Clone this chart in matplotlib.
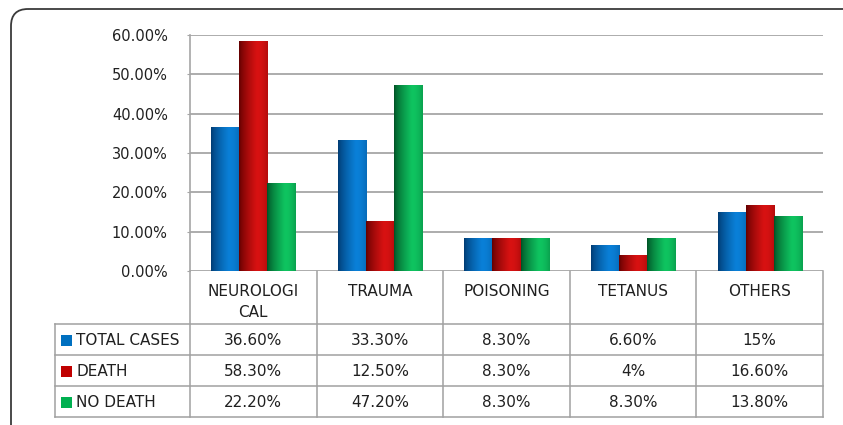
import numpy as np
import matplotlib
matplotlib.use("Agg")
import matplotlib.pyplot as plt
from matplotlib.patches import FancyBboxPatch, Rectangle
from matplotlib.colors import to_rgb

# ---------------- data ----------------
categories = ["NEUROLOGI\nCAL", "TRAUMA", "POISONING", "TETANUS", "OTHERS"]
series_names = ["TOTAL CASES", "DEATH", "NO DEATH"]
total_cases = [36.6, 33.3, 8.3, 6.6, 15.0]
death = [58.3, 12.5, 8.3, 4.0, 16.6]
no_death = [22.2, 47.2, 8.3, 8.3, 13.8]
y_ticks = [0, 10, 20, 30, 40, 50, 60]

series = [total_cases, death, no_death]
bright = ["#0a80d8", "#d81212", "#0fc460"]
dark = ["#003a70", "#600000", "#005025"]
key_colors = ["#0070c0", "#c00000", "#00b050"]

W, H = 843, 425
DPI = 100
plt.rcParams['font.family'] = ['DejaVu Sans']
FS = 10.5
FS_T = 11

fig = plt.figure(figsize=(W / DPI, H / DPI), dpi=DPI)
fig.patch.set_facecolor("white")

# plot area in pixels
L, R, T, B = 190, 823, 35, 271
ax = fig.add_axes([L / W, (H - B) / H, (R - L) / W, (B - T) / H])
ax.set_zorder(2)
ax.patch.set_alpha(0)

n = len(categories)
x = np.arange(n)
bw = 1 / 4.5
offsets = [-bw, 0, bw]


def grad_img(c_dark, c_bright):
    d = np.array(to_rgb(c_dark))
    b = np.array(to_rgb(c_bright))
    t = np.linspace(0, 1, 64)
    # dark on left, brightest ~62%, slightly darker on right edge
    prof = np.where(t < 0.62, (t / 0.62) ** 0.7, 1 - 0.3 * ((t - 0.62) / 0.38) ** 2)
    prof = np.clip(prof, 0, 1)
    cols = d[None, :] + (b - d)[None, :] * prof[:, None]
    return cols[None, :, :]


for s, vals in enumerate(series):
    bars = ax.bar(x + offsets[s], vals, width=bw, color=bright[s], zorder=3, linewidth=0)
    img = grad_img(dark[s], bright[s])
    for p in bars:
        x0 = p.get_x()
        ax.imshow(img, extent=(x0, x0 + p.get_width(), 0, p.get_height()),
                  aspect="auto", zorder=4, interpolation="bilinear")

ax.set_xlim(-0.5, n - 0.5)
ax.set_ylim(0, 60)
ax.set_yticks(y_ticks)
ax.set_yticklabels([f"{v:.2f}%" for v in y_ticks], fontsize=FS, color="#202020")
ax.set_xticks([])
ax.grid(axis="y", color="#a6a6a6", linewidth=1.3, zorder=1)
ax.set_axisbelow(True)
for sp in ["top", "right", "bottom"]:
    ax.spines[sp].set_visible(False)
ax.spines["left"].set_color("#a6a6a6")
ax.spines["left"].set_linewidth(1.2)
ax.tick_params(axis="y", length=2, color="#a6a6a6", pad=14)

# ---------------- overlay (table, frame) ----------------
ov = fig.add_axes([0, 0, 1, 1])
ov.set_zorder(1)
ov.set_xlim(0, W)
ov.set_ylim(H, 0)
ov.axis("off")

frame = FancyBboxPatch((11, 9), 850, 440, boxstyle="round,pad=0,rounding_size=17",
                       facecolor="none", edgecolor="#3a3a3a", linewidth=1.3)
ov.add_patch(frame)

lc = "#a0a0a0"
lw = 1.1
TL = 55
rows_y = [324, 355, 386, 417]
colw = (R - L) / n
col_x = [L + i * colw for i in range(n + 1)]

# horizontal lines
for yy in rows_y:
    ov.plot([TL, R], [yy, yy], color=lc, lw=lw)
# vertical lines
ov.plot([TL, TL], [rows_y[0], rows_y[-1]], color=lc, lw=lw)
for xx in col_x:
    ov.plot([xx, xx], [B, rows_y[-1]], color=lc, lw=lw)

# category headers
for i, c in enumerate(categories):
    ov.text(col_x[i] + colw / 2, 284, c, ha="center", va="top", fontsize=FS_T,
            color="#202020", linespacing=1.5)


def fmt(v):
    return f"{int(v)}%" if float(v).is_integer() else f"{v:.2f}%"


for s, vals in enumerate(series):
    yc = (rows_y[s] + rows_y[s + 1]) / 2 + 1
    ov.add_patch(Rectangle((61, yc - 5.5), 10.5, 10.5, facecolor=key_colors[s], edgecolor="none"))
    ov.text(76, yc, series_names[s], ha="left", va="center", fontsize=FS_T, color="#202020")
    for i, v in enumerate(vals):
        ov.text(col_x[i] + colw / 2, yc, fmt(v), ha="center", va="center",
                fontsize=FS_T, color="#202020")

fig.savefig("out.png", dpi=DPI, facecolor="white")
